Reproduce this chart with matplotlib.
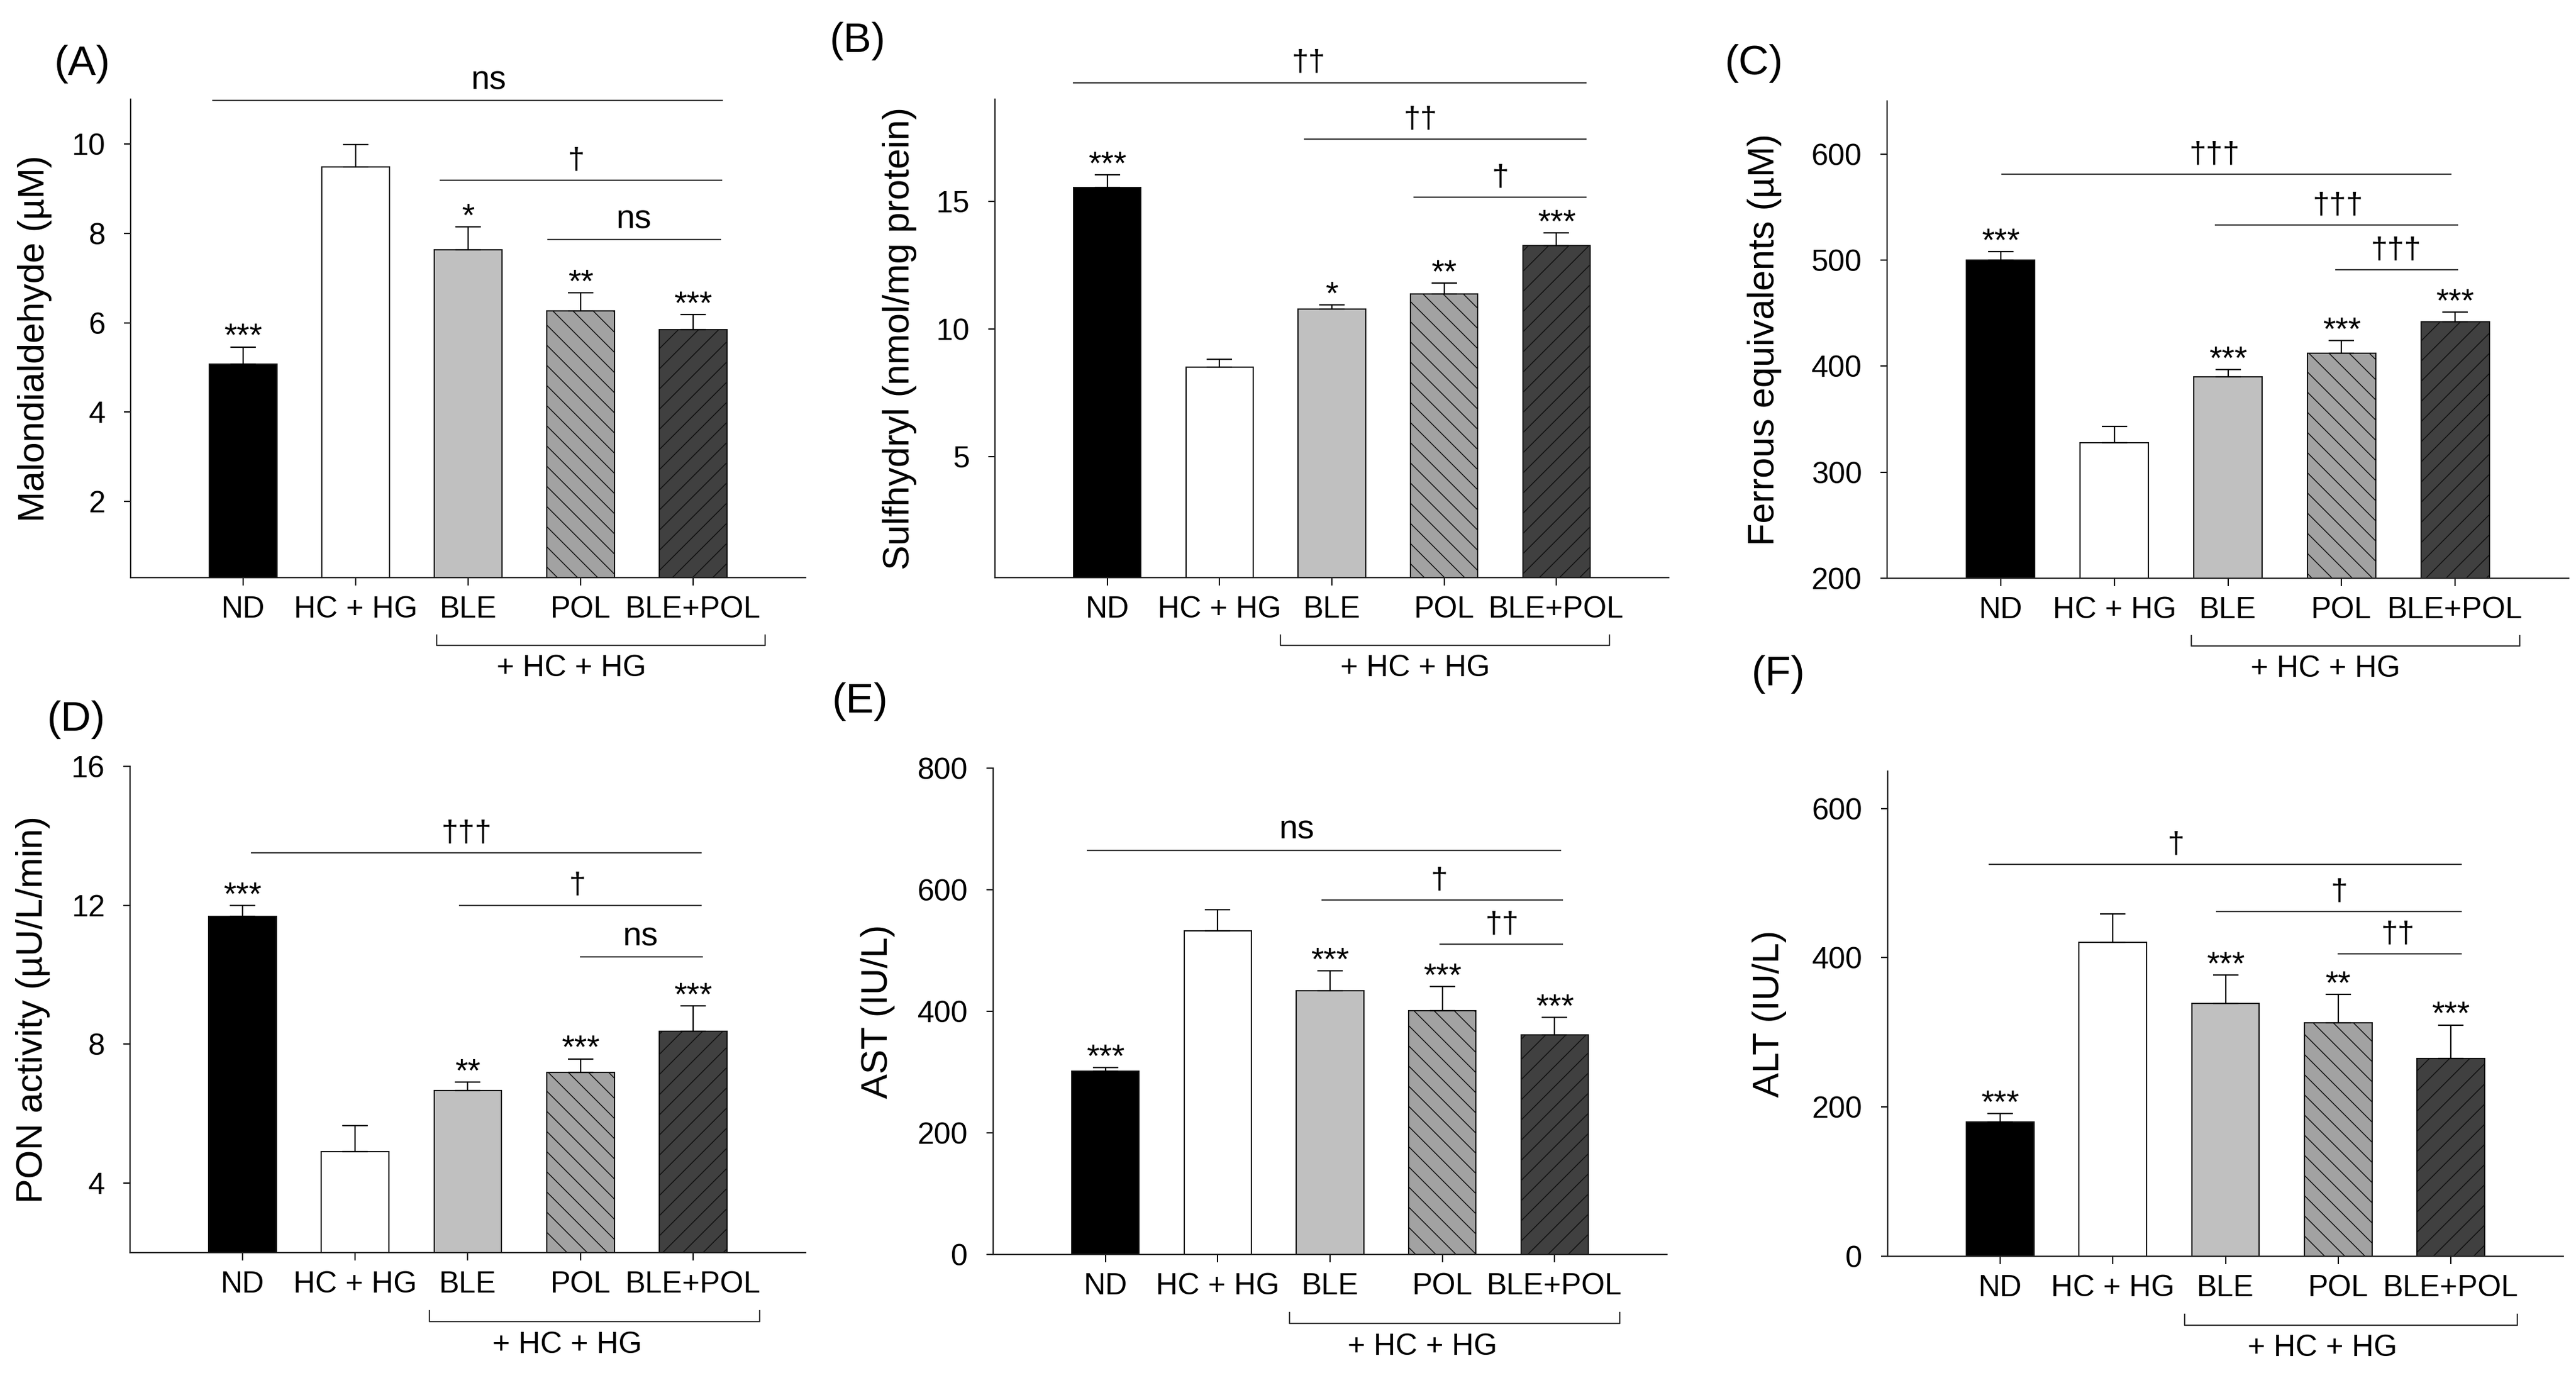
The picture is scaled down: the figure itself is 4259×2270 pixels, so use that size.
import numpy as np
import matplotlib
matplotlib.use('Agg')
import matplotlib.pyplot as plt
from matplotlib import transforms

plt.rcParams['font.family'] = ['Liberation Sans', 'DejaVu Sans']
plt.rcParams['hatch.linewidth'] = 1.1
plt.rcParams['hatch.color'] = 'black'

# groups shown on every panel
groups = ['ND', 'HC + HG', 'BLE', 'POL', 'BLE+POL']

# (A) malondialdehyde
mda_mean = [5.08, 9.48, 7.63, 6.26, 5.85]
mda_err = [0.38, 0.51, 0.52, 0.41, 0.33]
mda_stars = ['***', '', '*', '**', '***']
mda_sig = ['ns', '†', 'ns']

# (B) sulfhydryl
sh_mean = [15.55, 8.50, 10.77, 11.37, 13.26]
sh_err = [0.48, 0.30, 0.17, 0.42, 0.49]
sh_stars = ['***', '', '*', '**', '***']
sh_sig = ['††', '††', '†']

# (C) ferrous equivalents
frap_mean = [500, 328, 390, 412, 442]
frap_err = [8, 15, 6.5, 12, 9]
frap_stars = ['***', '', '***', '***', '***']
frap_sig = ['†††', '†††', '†††']

# (D) PON activity
pon_mean = [11.68, 4.91, 6.67, 7.19, 8.38]
pon_err = [0.32, 0.74, 0.24, 0.39, 0.73]
pon_stars = ['***', '', '**', '***', '***']
pon_sig = ['†††', '†', 'ns']

# (E) AST
ast_mean = [301, 532, 434, 401, 361]
ast_err = [6.5, 35, 33, 40, 29]
ast_stars = ['***', '', '***', '***', '***']
ast_sig = ['ns', '†', '††']

# (F) ALT
alt_mean = [180, 421, 339, 313, 265]
alt_err = [11, 38, 38, 38, 45]
alt_stars = ['***', '', '***', '**', '***']
alt_sig = ['†', '†', '††']

# bar look
bar_colors = ['#000000', '#ffffff', '#c0c0c0', '#a2a2a2', '#404040']
bar_hatches = ['', '', '', '\\', '/']

W, H = 4259, 2270
fig = plt.figure(figsize=(W / 100, H / 100), dpi=100)


def fig_box(x0, y0, x1, y1):
    # pixel box -> figure fraction [left, bottom, width, height]
    return [x0 / W, 1 - y1 / H, (x1 - x0) / W, (y1 - y0) / H]


def draw_panel(box, means, errs, stars, sig, sig_pos, ylabel, ylim, yticks,
               label, label_xy, ylabel_x, bracket):
    ax = fig.add_axes(fig_box(*box))
    x = np.arange(len(groups))
    bars = ax.bar(x, means, width=0.6, color=bar_colors, edgecolor='#111111',
                  linewidth=1.5, zorder=2)
    for patch, h in zip(bars, bar_hatches):
        if h:
            patch.set_hatch(h)
    ax.errorbar(x, means, yerr=[np.zeros(len(x)), errs], fmt='none',
                ecolor='black', elinewidth=1.6, capsize=15, capthick=1.6, zorder=3)
    for xi, m, e, s in zip(x, means, errs, stars):
        if s:
            ax.annotate(s, (xi, m + e), xytext=(0, 1.5), textcoords='offset points',
                        ha='center', va='baseline', fontsize=39)
    for lab, (x0, x1, y, tx) in zip(sig, sig_pos):
        ax.plot([x0, x1], [y, y], color='#333333', lw=1.6, clip_on=False)
        if lab == 'ns':
            ax.annotate(lab, (tx, y), xytext=(0, 5), textcoords='offset points',
                        ha='center', va='bottom', fontsize=40, annotation_clip=False)
        else:
            ax.annotate(lab, (tx, y), xytext=(0, 7), textcoords='offset points',
                        ha='center', va='bottom', fontsize=36, annotation_clip=False)

    ax.set_xlim(-1, 5)
    ax.set_ylim(*ylim)
    ax.set_yticks(yticks)
    ax.set_xticks(x)
    ax.set_xticklabels(groups)
    ax.spines['top'].set_visible(False)
    ax.spines['right'].set_visible(False)
    for sp in ['left', 'bottom']:
        ax.spines[sp].set_linewidth(1.6)
        ax.spines[sp].set_color('#222222')
    ax.tick_params(axis='y', direction='out', length=8, width=1.5, pad=22, labelsize=36)
    ax.tick_params(axis='x', direction='out', length=9.5, width=1.5, pad=12, labelsize=36)
    ax.set_ylabel(ylabel, fontsize=44, va='center')
    ax.yaxis.set_label_coords(ylabel_x, 0.5)

    # bracket under the treated groups
    trans = transforms.blended_transform_factory(ax.transData, ax.transAxes)
    bx0, bx1, btx = bracket
    ax.plot([bx0, bx0, bx1, bx1], [-0.12, -0.142, -0.142, -0.12], transform=trans,
            color='#333333', lw=1.6, clip_on=False)
    ax.text(btx, -0.19, '+ HC + HG', transform=trans, ha='center', va='center',
            fontsize=36)

    fig.text(label_xy[0] / W, 1 - label_xy[1] / H, label, ha='center', va='center',
             fontsize=50)
    return ax


draw_panel((216, 164, 1332, 955), mda_mean, mda_err, mda_stars, mda_sig,
           [(-0.27, 4.26, 10.97, 2.18), (1.75, 4.25, 9.19, 2.96), (2.71, 4.24, 7.86, 3.47)],
           'Malondialdehyde (µM)', (0.3, 11), [2, 4, 6, 8, 10],
           '(A)', (136, 106), -0.142, (1.72, 4.64, 2.92))

draw_panel((1645, 164, 2759, 955), sh_mean, sh_err, sh_stars, sh_sig,
           [(-0.3, 4.26, 19.65, 1.79), (1.76, 4.26, 17.43, 2.79), (2.73, 4.26, 15.15, 3.5)],
           'Sulfhydryl (nmol/mg protein)', (0.25, 19), [5, 10, 15],
           '(B)', (1418, 68), -0.141, (1.54, 4.47, 2.74))

draw_panel((3120, 167, 4247, 956), frap_mean, frap_err, frap_stars, frap_sig,
           [(0.01, 3.96, 581, 1.88), (1.89, 4.02, 533, 2.97), (2.95, 4.02, 491, 3.48)],
           'Ferrous equivalents (µM)', (200, 650), [200, 300, 400, 500, 600],
           '(C)', (2900, 105), -0.18, (1.68, 4.57, 2.86))

draw_panel((215, 1267, 1332, 2071), pon_mean, pon_err, pon_stars, pon_sig,
           [(0.08, 4.07, 13.51, 1.99), (1.93, 4.07, 12.0, 2.97), (3.0, 4.08, 10.51, 3.53)],
           'PON activity (µU/L/min)', (2, 16), [4, 8, 12, 16],
           '(D)', (126, 1190), -0.144, (1.66, 4.59, 2.88))

draw_panel((1642, 1270, 2756, 2074), ast_mean, ast_err, ast_stars, ast_sig,
           [(-0.16, 4.05, 665, 1.70), (1.93, 4.07, 583, 2.97), (2.98, 4.07, 510, 3.53)],
           'AST (IU/L)', (0, 800), [0, 200, 400, 600, 800],
           '(E)', (1422, 1160), -0.171, (1.64, 4.58, 2.82))

draw_panel((3121, 1275, 4238, 2077), alt_mean, alt_err, alt_stars, alt_sig,
           [(-0.1, 4.09, 525, 1.56), (1.92, 4.09, 462, 3.01), (3.0, 4.09, 405, 3.53)],
           'ALT (IU/L)', (0, 650), [0, 200, 400, 600],
           '(F)', (2940, 1115), -0.175, (1.64, 4.59, 2.86))

fig.savefig('out.png', dpi=100)
